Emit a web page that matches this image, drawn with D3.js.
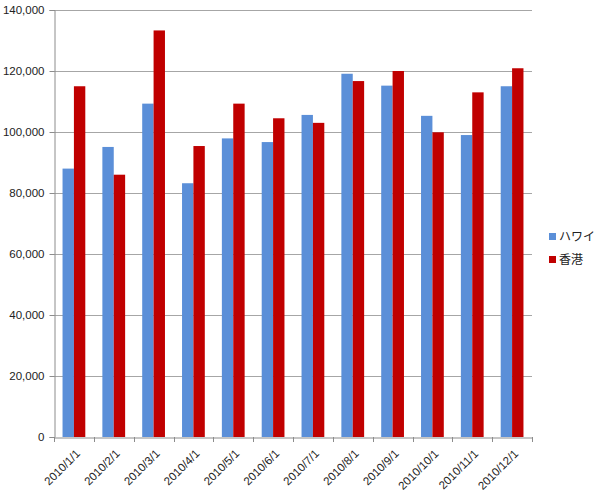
<!DOCTYPE html>
<html><head><meta charset="utf-8">
<script src="https://cdn.jsdelivr.net/npm/d3@7"></script>
<style>
body{margin:0;background:#fff;}
text{font-family:"Liberation Sans","Noto Sans CJK JP",sans-serif;fill:#222;}
</style></head>
<body><svg id="c" width="600" height="496"></svg>
<script>
const categories = ["2010/1/1","2010/2/1","2010/3/1","2010/4/1","2010/5/1","2010/6/1","2010/7/1","2010/8/1","2010/9/1","2010/10/1","2010/11/1","2010/12/1"];
const seriesNames = ["ハワイ","香港"];
const hawaii = [88000,95100,109300,83200,97900,96700,105600,119100,115200,105300,99000,115000];
const hongkong = [115000,86000,133300,95400,109300,104500,103000,116700,120000,99900,113000,120900];
const yTicks = [0,20000,40000,60000,80000,100000,120000,140000];
const colors = ["#5B8FD8","#C00000"];

const svg = d3.select("#c");
const m = {l:54, t:10, r:532, b:437};
const x = d3.scaleBand().domain(categories).range([m.l, m.r]).paddingInner(0).paddingOuter(0);
const x1 = d3.scaleBand().domain(seriesNames).range([0, x.bandwidth()]).paddingInner(0).paddingOuter(0.75);
const y = d3.scaleLinear().domain([0,140000]).range([m.b, m.t]);

// gridlines
svg.append("g").selectAll("line").data(yTicks.filter(d=>d>0)).join("line")
  .attr("x1", m.l).attr("x2", m.r).attr("y1", d=>y(d)+0.5).attr("y2", d=>y(d)+0.5)
  .attr("stroke","#a6a6a6").attr("stroke-width",1);

// bars
const data = [hawaii, hongkong];
seriesNames.forEach((s,i)=>{
  svg.append("g").selectAll("rect").data(categories).join("rect")
    .attr("x", (c)=>x(c)+x1(s))
    .attr("width", x1.bandwidth())
    .attr("y", (c,j)=>y(data[i][j]))
    .attr("height", (c,j)=>y(0)-y(data[i][j]))
    .attr("fill", colors[i]);
});

// y axis
const ya = svg.append("g").attr("transform",`translate(${m.l+0.5},0)`)
  .call(d3.axisLeft(y).tickValues(yTicks).tickSize(5).tickPadding(5).tickFormat(d3.format(",")));
ya.select(".domain").attr("stroke","#8c8c8c");
ya.selectAll(".tick line").attr("stroke","#8c8c8c");
ya.selectAll("text").style("font-size","11.5px").attr("fill","#222");

// x axis
const xa = svg.append("g").attr("transform",`translate(0,${m.b+0.5})`)
  .call(d3.axisBottom(x).tickSize(0).tickFormat(d=>d));
xa.select(".domain").attr("stroke","#8c8c8c");
xa.selectAll(".tick line").remove();
// boundary ticks
svg.append("g").selectAll("line").data(d3.range(categories.length+1)).join("line")
  .attr("x1", i=>Math.round(m.l + i*x.step())+0.5).attr("x2", i=>Math.round(m.l + i*x.step())+0.5)
  .attr("y1", m.b).attr("y2", m.b+5).attr("stroke","#8c8c8c");
xa.selectAll(".tick text")
  .style("font-size","11.5px").attr("fill","#222")
  .attr("text-anchor","end").attr("dy","0.35em").attr("y",0)
  .attr("transform","translate(4,14) rotate(-45)");

// legend
const lg = svg.append("g");
seriesNames.forEach((s,i)=>{
  lg.append("rect").attr("x",549).attr("y",233+i*23).attr("width",7).attr("height",7).attr("fill",colors[i]);
  lg.append("text").attr("x",559).attr("y",237+i*23).attr("dy","0.35em").style("font-size","12px").text(s);
});
</script></body></html>
